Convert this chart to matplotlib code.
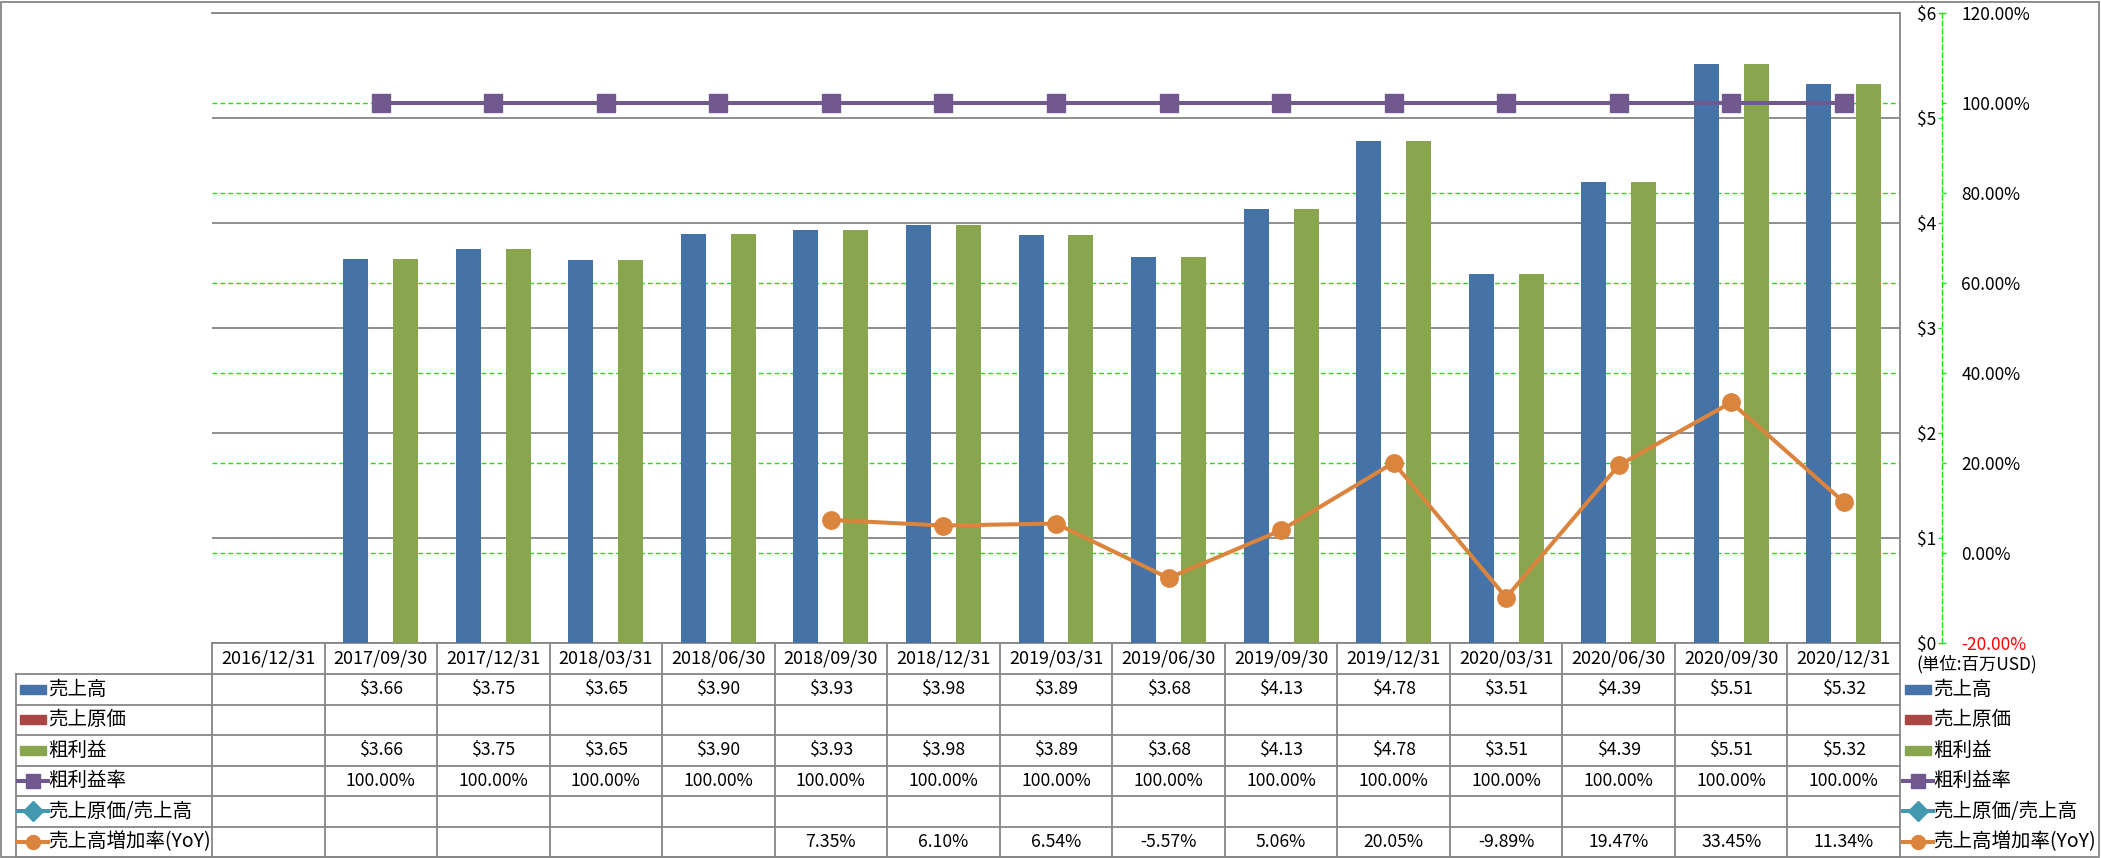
import matplotlib
matplotlib.use("Agg")
import matplotlib.pyplot as plt
import numpy as np
from matplotlib.lines import Line2D
from matplotlib.patches import Rectangle
from matplotlib import transforms

plt.rcParams['font.family'] = ['Noto Sans CJK JP', 'DejaVu Sans']

# --- données ---
dates = ['2016/12/31', '2017/09/30', '2017/12/31', '2018/03/31', '2018/06/30',
         '2018/09/30', '2018/12/31', '2019/03/31', '2019/06/30', '2019/09/30',
         '2019/12/31', '2020/03/31', '2020/06/30', '2020/09/30', '2020/12/31']
nan = np.nan
sales = [nan, 3.66, 3.75, 3.65, 3.90, 3.93, 3.98, 3.89, 3.68, 4.13, 4.78, 3.51, 4.39, 5.51, 5.32]
cost = [nan] * 15
gross = [nan, 3.66, 3.75, 3.65, 3.90, 3.93, 3.98, 3.89, 3.68, 4.13, 4.78, 3.51, 4.39, 5.51, 5.32]
margin = [nan] + [100.0] * 14
cost_ratio = [nan] * 15
yoy = [nan, nan, nan, nan, nan, 7.35, 6.10, 6.54, -5.57, 5.06, 20.05, -9.89, 19.47, 33.45, 11.34]

usd_ticks = [0, 1, 2, 3, 4, 5, 6]
pct_ticks = [-20, 0, 20, 40, 60, 80, 100, 120]

names = ['売上高', '売上原価', '粗利益', '粗利益率', '売上原価/売上高', '売上高増加率(YoY)']

BLUE, RED, GREEN = '#4572A7', '#AA4643', '#89A54E'
PURPLE, TEAL, ORANGE = '#71588F', '#4198AF', '#DB843D'
GRAY = '#868686'
LGREEN = '#1ee01e'

W, H = 2101, 858
fig = plt.figure(figsize=(W / 100, H / 100), dpi=100)


def fx(px):
    return px / W


def fy(py):
    return 1 - py / H


x0, x1, ytop, ybot = 212, 1900, 13, 643
ax = fig.add_axes([fx(x0), fy(ybot), (x1 - x0) / W, (ybot - ytop) / H])
ax2 = ax.twinx()

# axes à droite (position des spines d'abord : set_position réinitialise les ticks)
axis_pos = (1942 - x0) / (x1 - x0)
ax.spines['left'].set_position(('axes', axis_pos))
ax.spines['left'].set_visible(False)
ax2.spines['right'].set_position(('axes', axis_pos))

x = np.arange(len(dates))
w = 0.222
ax.bar(x - w, sales, w, color=BLUE, zorder=3)
ax.bar(x, cost, w, color=RED, zorder=3)
ax.bar(x + w, gross, w, color=GREEN, zorder=3)

ax.set_xlim(-0.5, len(dates) - 0.5)
ax.set_ylim(0, 6)
ax2.set_ylim(-20, 120)

# lignes de pourcentage
ax2.plot(x, margin, color=PURPLE, lw=2.9, marker='s', ms=13, mec=PURPLE, zorder=4)
ax2.plot(x, cost_ratio, color=TEAL, lw=2.9, marker='D', ms=12, zorder=4)
ax2.plot(x, yoy, color=ORANGE, lw=2.9, marker='o', ms=12.5, zorder=4)

# grilles
ax.set_axisbelow(True)
ax.yaxis.grid(True, color=GRAY, lw=1.3)
grid_tr = transforms.blended_transform_factory(ax.transAxes, ax2.transData)
for p in pct_ticks[1:-1]:
    ax.add_line(Line2D([0, 1], [p, p], transform=grid_tr, color=LGREEN, lw=1.0,
                       ls=(0, (3.5, 2.2)), zorder=1))

ax.set_xticks([])
ax.set_yticks(usd_ticks)
ax.set_yticklabels([r'\$%d' % v for v in usd_ticks])
ax.tick_params(axis='y', which='both', left=True, length=3, width=1, color=LGREEN,
               pad=1, labelsize=12.5)
for s in ['top', 'bottom', 'right']:
    ax.spines[s].set_color(GRAY)
    ax.spines[s].set_linewidth(1.3)

ax2.set_yticks(pct_ticks)
ax2.set_yticklabels(['%.2f%%' % v for v in pct_ticks])
ax2.tick_params(axis='y', length=3, width=1, color=LGREEN, pad=11, labelsize=12.5)
ax2.get_yticklabels()[0].set_color('red')
ax2.spines['right'].set_color(LGREEN)
ax2.spines['right'].set_linestyle((0, (3.5, 2.2)))
ax2.spines['right'].set_linewidth(1.0)
for s in ['top', 'bottom', 'left']:
    ax2.spines[s].set_visible(False)

fig.text(fx(1916), fy(664), '(単位:百万USD)', fontsize=12.5, ha='left', va='center')

# --- tableau ---
tab_tr = transforms.blended_transform_factory(ax.transData, fig.transFigure)
row_h = (857 - 674) / 6
row_y = [674 + i * row_h for i in range(7)]

for k in range(len(dates) + 1):
    fig.add_artist(Line2D([k - 0.5, k - 0.5], [fy(643), fy(857)], transform=tab_tr,
                          color=GRAY, lw=1.3))
for yy in row_y:
    fig.add_artist(Line2D([fx(16), fx(x1)], [fy(yy), fy(yy)], transform=fig.transFigure,
                          color=GRAY, lw=1.3))
fig.add_artist(Line2D([fx(16), fx(16)], [fy(674), fy(857)], transform=fig.transFigure,
                      color=GRAY, lw=1.3))

for k, d in enumerate(dates):
    fig.text(k, fy(658.5), d, transform=tab_tr, ha='center', va='center', fontsize=13)

rows = [
    (sales, lambda v: r'\$%.2f' % v),
    (cost, lambda v: r'\$%.2f' % v),
    (gross, lambda v: r'\$%.2f' % v),
    (margin, lambda v: '%.2f%%' % v),
    (cost_ratio, lambda v: '%.2f%%' % v),
    (yoy, lambda v: '%.2f%%' % v),
]
for i, (vals, fmt) in enumerate(rows):
    yc = fy(row_y[i] + row_h / 2)
    for k, v in enumerate(vals):
        if not np.isnan(v):
            fig.text(k, yc, fmt(v), transform=tab_tr, ha='center', va='center', fontsize=12.7)

# légendes (colonne de gauche et à droite)
styles = [('bar', BLUE, None), ('bar', RED, None), ('bar', GREEN, None),
          ('line', PURPLE, 's'), ('line', TEAL, 'D'), ('line', ORANGE, 'o')]


def draw_key(xl, yc, kind, color, marker):
    if kind == 'bar':
        fig.add_artist(Rectangle((fx(xl + 3), yc - 4.5 / H), 26 / W, 9 / H,
                                 transform=fig.transFigure, color=color))
    else:
        fig.add_artist(Line2D([fx(xl + 1), fx(xl + 31)], [yc, yc], transform=fig.transFigure,
                              color=color, lw=2.9, marker=None))
        fig.add_artist(Line2D([fx(xl + 16)], [yc], transform=fig.transFigure,
                              color=color, marker=marker, ms=10))


for i, (name, (kind, color, marker)) in enumerate(zip(names, styles)):
    yc = fy(row_y[i] + row_h / 2)
    draw_key(17, yc, kind, color, marker)
    fig.text(fx(48), yc, name, ha='left', va='center', fontsize=14)
    draw_key(1902, yc, kind, color, marker)
    fig.text(fx(1933), yc, name, ha='left', va='center', fontsize=14)

# cadre extérieur
fig.add_artist(Rectangle((fx(1), fy(857)), 2098 / W, 855 / H, transform=fig.transFigure,
                         fill=False, edgecolor=GRAY, lw=1.3))

fig.savefig('out.png', dpi=100)
